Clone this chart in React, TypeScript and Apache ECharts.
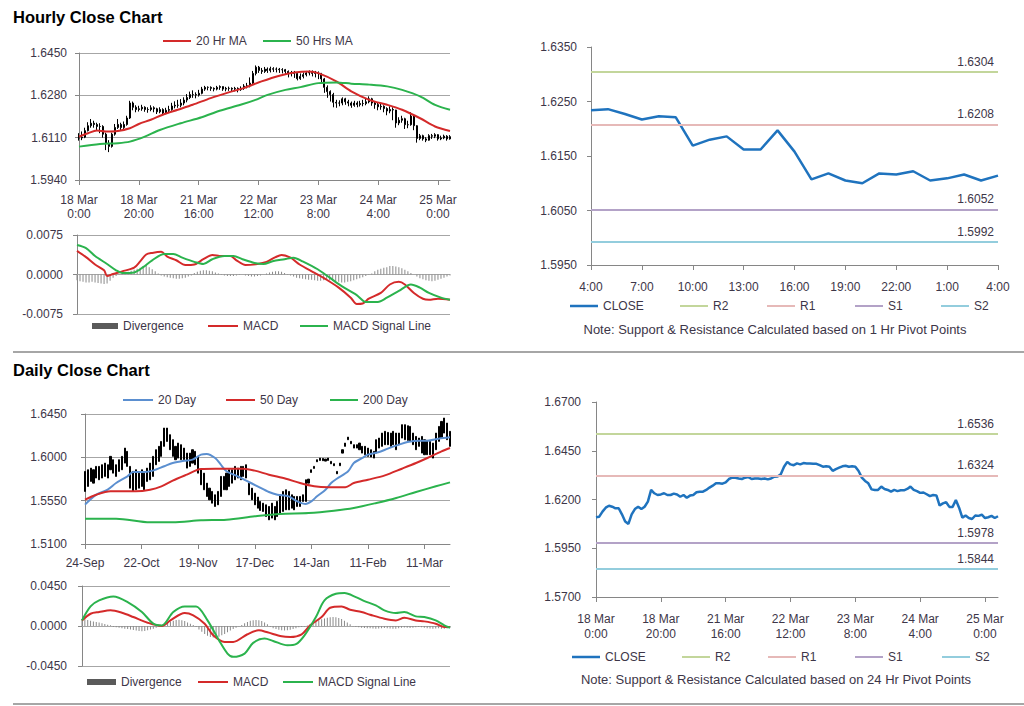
import React, { useEffect, useRef } from "react";
import * as echarts from "echarts";

const FONT = "'Liberation Sans', Arial, Helvetica, sans-serif";
const TEXT = "#3d3648";
const AXIS = "#868686";
const GRIDLINE = "#a6a6a6";
const RED = "#d42a2a";
const GREEN = "#2bb34d";
const BLUE = "#5b8fd0";
const CLOSE_BLUE = "#1f73be";
const DIV_GREY = "#8a8a8a";

// ---------------- Hourly data: 18 Mar 0:00 -> 25 Mar 4:00 (125 hours) ----------------
const hourlyClose = [
  1.6109, 1.6112, 1.6138, 1.6158, 1.6168, 1.6163, 1.6155, 1.6155, 1.6124, 1.6087,
  1.6075, 1.6124, 1.6151, 1.6163, 1.6151, 1.6163, 1.6189, 1.6249, 1.6232, 1.6223,
  1.6226, 1.6232, 1.6223, 1.6223, 1.623, 1.6226, 1.6214, 1.6223, 1.6209, 1.622,
  1.6223, 1.6237, 1.624, 1.624, 1.6249, 1.6261, 1.6271, 1.6283, 1.6283, 1.6281,
  1.6288, 1.6305, 1.6312, 1.6312, 1.6308, 1.6305, 1.6312, 1.6315, 1.6305, 1.6308,
  1.6308, 1.6305, 1.6308, 1.6303, 1.6308, 1.6317, 1.6318, 1.6329, 1.6368, 1.6393,
  1.638, 1.6376, 1.6385, 1.638, 1.6387, 1.6385, 1.6385, 1.6383, 1.6383, 1.6376,
  1.6368, 1.6371, 1.6368, 1.6347, 1.6356, 1.6363, 1.637, 1.6373, 1.6368, 1.6371,
  1.6368, 1.6346, 1.6312, 1.6295, 1.6283, 1.6252, 1.6249, 1.6249, 1.6266, 1.6254,
  1.6249, 1.624, 1.6249, 1.6243, 1.6247, 1.6247, 1.6254, 1.6266, 1.6249, 1.6243,
  1.6234, 1.6236, 1.6227, 1.6217, 1.6223, 1.6221, 1.6169, 1.618, 1.6186, 1.6162,
  1.6162, 1.6197, 1.6158, 1.6107, 1.6118, 1.6105, 1.61, 1.6118, 1.6116, 1.6122,
  1.6105, 1.6109, 1.6116, 1.6105, 1.6114,
];
const hourlyHigh = [
  1.6128, 1.6135, 1.615, 1.6172, 1.6185, 1.6178, 1.617, 1.6168, 1.616, 1.613,
  1.61, 1.613, 1.6165, 1.6185, 1.617, 1.6175, 1.6198, 1.6258, 1.6255, 1.624,
  1.6238, 1.6242, 1.6236, 1.6232, 1.624, 1.6236, 1.623, 1.6232, 1.6228, 1.623,
  1.6238, 1.625, 1.6256, 1.6262, 1.6265, 1.6272, 1.6285, 1.6295, 1.63, 1.6292,
  1.6302, 1.6314, 1.6318, 1.6316, 1.6316, 1.6312, 1.6318, 1.632, 1.6316, 1.6314,
  1.6315, 1.6312, 1.6314, 1.6312, 1.6316, 1.6325, 1.633, 1.6352, 1.6378, 1.64,
  1.6398, 1.639, 1.6394, 1.6392, 1.6395, 1.6393, 1.6392, 1.639, 1.6389, 1.6386,
  1.638, 1.6378, 1.6378, 1.637, 1.6368, 1.6372, 1.6378, 1.638, 1.638, 1.6378,
  1.6376, 1.637, 1.635, 1.632, 1.63, 1.629, 1.6262, 1.626, 1.6272, 1.627,
  1.6262, 1.6255, 1.6258, 1.6256, 1.6258, 1.6262, 1.6268, 1.6276, 1.627, 1.6256,
  1.625, 1.6248, 1.624, 1.6232, 1.6236, 1.6232, 1.6222, 1.6192, 1.6198, 1.619,
  1.6178, 1.6212, 1.6205, 1.616, 1.6125, 1.6122, 1.6112, 1.6124, 1.6125, 1.6128,
  1.6124, 1.6118, 1.6122, 1.612, 1.612,
];
const hourlyLow = [
  1.6098, 1.61, 1.6108, 1.6135, 1.615, 1.615, 1.614, 1.6128, 1.611, 1.606,
  1.6052, 1.607, 1.6118, 1.6145, 1.614, 1.6145, 1.6158, 1.6185, 1.622, 1.6212,
  1.6215, 1.6218, 1.6214, 1.621, 1.6216, 1.6212, 1.6205, 1.6208, 1.62, 1.6204,
  1.6212, 1.6218, 1.6228, 1.623, 1.6232, 1.624, 1.6252, 1.6265, 1.627, 1.6268,
  1.6275, 1.6284, 1.6298, 1.63, 1.6298, 1.6296, 1.63, 1.6302, 1.6298, 1.6296,
  1.6298, 1.6294, 1.6296, 1.6292, 1.6298, 1.6302, 1.6308, 1.6312, 1.6325, 1.636,
  1.637, 1.6366, 1.637, 1.637, 1.6372, 1.6374, 1.6372, 1.637, 1.6368, 1.6362,
  1.6352, 1.6356, 1.635, 1.634, 1.6342, 1.6348, 1.6356, 1.636, 1.6356, 1.6352,
  1.6345, 1.633, 1.629, 1.627, 1.6255, 1.6232, 1.623, 1.6236, 1.624, 1.6242,
  1.6236, 1.623, 1.6234, 1.6232, 1.6235, 1.6236, 1.624, 1.6248, 1.6238, 1.6226,
  1.622, 1.6222, 1.6212, 1.62, 1.6208, 1.618, 1.615, 1.616, 1.617, 1.6145,
  1.6148, 1.6158, 1.614, 1.609, 1.61, 1.6098, 1.6092, 1.6098, 1.6105, 1.6108,
  1.6098, 1.61, 1.6104, 1.6098, 1.6102,
];
const hourlyTickLabels = ["18 Mar\n0:00", "18 Mar\n20:00", "21 Mar\n16:00", "22 Mar\n12:00", "23 Mar\n8:00", "24 Mar\n4:00", "25 Mar\n0:00"];

// [hour index, value]
const ma20Hr = [
  [0, 1.6114], [3, 1.6128], [6, 1.6139], [9, 1.6135], [13, 1.6137], [17, 1.6148], [20, 1.6165],
  [24, 1.6182], [28, 1.6202], [33, 1.6222], [38, 1.6242], [44, 1.6269], [50, 1.6292], [55, 1.6309],
  [61, 1.6336], [67, 1.6359], [72, 1.6372], [77, 1.6376], [80, 1.6369], [86, 1.6336], [91, 1.6296],
  [97, 1.6262], [103, 1.6242], [108, 1.6222], [114, 1.6188], [119, 1.6155], [124, 1.6137],
];
const ma50Hr = [
  [0, 1.6074], [7, 1.6085], [13, 1.6088], [17, 1.6094], [22, 1.6114], [27, 1.6141], [34, 1.6168],
  [41, 1.6192], [47, 1.6218], [54, 1.6242], [59, 1.6262], [63, 1.6282], [69, 1.6302], [74, 1.6313],
  [80, 1.6329], [86, 1.6332], [91, 1.6327], [97, 1.6323], [103, 1.6316], [108, 1.6302], [114, 1.6276],
  [119, 1.6242], [124, 1.6222],
];
const hourlyMacd = [
  [0, 0.0045], [3, 0.0033], [6, 0.0019], [9, 0.0008], [10, -0.0003], [12, 0.0001], [15, 0.0006],
  [19, 0.0013], [21, 0.0025], [23, 0.0038], [25, 0.0041], [28, 0.0043], [30, 0.0034], [33, 0.0027],
  [36, 0.0018], [39, 0.0019], [42, 0.0029], [45, 0.0037], [48, 0.0035], [51, 0.0035], [53, 0.0027],
  [56, 0.0018], [60, 0.002], [63, 0.0024], [66, 0.0033], [68, 0.0037], [71, 0.0032], [74, 0.0019],
  [79, 0.0003], [83, -0.001], [87, -0.0025], [91, -0.0044], [93, -0.0056], [95, -0.0055], [97, -0.0046],
  [101, -0.0035], [104, -0.0019], [107, -0.0014], [109, -0.0019], [112, -0.0035], [115, -0.0046],
  [117, -0.0048], [120, -0.0046], [124, -0.0048],
];
const hourlySignal = [
  [0, 0.0056], [3, 0.005], [6, 0.0035], [10, 0.002], [13, 0.0008], [15, 0.0003], [19, 0.0004],
  [22, 0.0014], [25, 0.0027], [29, 0.0039], [32, 0.0039], [35, 0.0032], [39, 0.0024], [42, 0.002],
  [45, 0.0029], [49, 0.0035], [52, 0.0035], [55, 0.0029], [59, 0.0022], [62, 0.002], [65, 0.0025],
  [69, 0.0029], [72, 0.0032], [75, 0.0025], [80, 0.001], [84, -0.0006], [88, -0.0022], [93, -0.0039],
  [96, -0.0052], [100, -0.0052], [103, -0.0044], [107, -0.0031], [111, -0.0019], [114, -0.0025],
  [117, -0.0035], [121, -0.0044], [124, -0.0048],
];
const hourlyDivergence = [
  -0.0011, -0.0013, -0.0014, -0.0015, -0.0015, -0.0014, -0.0015, -0.0016, -0.0017, -0.0018, -0.0017, -0.0012,
  -0.0006, -0.0003, -0.0001,
  0.0002, 0.0003, 0.0005, 0.0007, 0.0009, 0.0011, 0.0013, 0.0016, 0.0018,
  0.0014, 0.001, 0.0006, 0.0002,
  -0.0002, -0.0004, -0.0005, -0.0006, -0.0007, -0.0008, -0.0008, -0.0007, -0.0006, -0.0004, -0.0002,
  0.0003, 0.0005, 0.0007, 0.0008, 0.0008, 0.0007, 0.0006, 0.0004, 0.0002,
  -0.0001, -0.0002, -0.0003, -0.0003, -0.0003, -0.0002, -0.0001, 0.0,
  -0.0002, -0.0003, -0.0004, -0.0004, -0.0003, -0.0002, 0.0,
  0.0002, 0.0004, 0.0005, 0.0006, 0.0006, 0.0005, 0.0003, 0.0001,
  -0.0002, -0.0004, -0.0006, -0.0007, -0.0008, -0.0009, -0.001, -0.001, -0.0011, -0.0012, -0.0012, -0.0011,
  -0.001, -0.0011, -0.0012, -0.0013, -0.0014, -0.0015, -0.0015, -0.0014, -0.0013, -0.0011, -0.0009,
  -0.0007, -0.0005, -0.0003, -0.0001, 0.0002,
  0.0006, 0.0009, 0.0011, 0.0013, 0.0014, 0.0016, 0.0016, 0.0015, 0.0014, 0.0012,
  0.0009, 0.0006, 0.0003, 0.0,
  -0.0004, -0.0007, -0.0009, -0.0011, -0.0012, -0.0013, -0.0012, -0.001, -0.0008, -0.0006,
  -0.0004, -0.0002,
];

// Last 24 hours (24 Mar 4:00 -> 25 Mar 4:00) are hourlyClose from index 100
const LAST24_START = 100;
const last24TickLabels = ["4:00", "7:00", "10:00", "13:00", "16:00", "19:00", "22:00", "1:00", "4:00"];

const pivotNames = ["R2", "R1", "S1", "S2"];
const pivotColors = ["#c3d69b", "#e6b9b8", "#b3a2c7", "#93cddd"];
const pivots1Hr = [1.6304, 1.6208, 1.6052, 1.5992];
const pivots24Hr = [1.6536, 1.6324, 1.5978, 1.5844];

// ---------------- Daily data: 24-Sep -> 24-Mar (130 trading days) ----------------
const dailyHigh = [
  1.5854, 1.5871, 1.5888, 1.5871, 1.5906, 1.5906, 1.5923, 1.594, 1.5923, 1.601,
  1.5975, 1.5923, 1.5975, 1.601, 1.6096, 1.6062, 1.5906, 1.5854, 1.5871, 1.5836,
  1.5871, 1.5836, 1.5888, 1.594, 1.601, 1.6079, 1.6114, 1.6165, 1.6304, 1.6304,
  1.6235, 1.6183, 1.6114, 1.6148, 1.6131, 1.6096, 1.6044, 1.6044, 1.6079, 1.6062,
  1.601, 1.5871, 1.5836, 1.5732, 1.568, 1.5646, 1.5611, 1.5646, 1.5802, 1.5802,
  1.5836, 1.5871, 1.5871, 1.5906, 1.5888, 1.5906, 1.5906, 1.5923, 1.5732, 1.568,
  1.5628, 1.5587, 1.5542, 1.5524, 1.5507, 1.549, 1.5524, 1.549, 1.5542, 1.5611,
  1.5646, 1.5663, 1.5646, 1.5611, 1.5594, 1.5594, 1.5594, 1.5611, 1.5767, 1.5774,
  1.5871, 1.5906, 1.5975, 1.5992, 1.5989, 1.5982, 1.5992, 1.5958, 1.5934, 1.5854,
  1.594, 1.6079, 1.6148, 1.621, 1.6166, 1.6131, 1.6131, 1.6148, 1.6114, 1.6114,
  1.6096, 1.6079, 1.6062, 1.6183, 1.62, 1.6252, 1.627, 1.6259, 1.6252, 1.627,
  1.6252, 1.6252, 1.6339, 1.6339, 1.6328, 1.6321, 1.6252, 1.6217, 1.62, 1.6217,
  1.6183, 1.6176, 1.6166, 1.6148, 1.6252, 1.6321, 1.6373, 1.6408, 1.6356, 1.627,
];
const dailyLow = [
  1.5646, 1.5698, 1.575, 1.5732, 1.5785, 1.5767, 1.5785, 1.5802, 1.5785, 1.5871,
  1.5836, 1.5802, 1.5854, 1.5871, 1.594, 1.5906, 1.568, 1.5646, 1.5663, 1.568,
  1.5698, 1.5663, 1.575, 1.5767, 1.5802, 1.5923, 1.5958, 1.601, 1.6114, 1.6165,
  1.6079, 1.601, 1.5975, 1.5992, 1.5975, 1.5975, 1.5888, 1.5906, 1.594, 1.5923,
  1.5836, 1.5715, 1.5663, 1.5594, 1.5559, 1.5524, 1.549, 1.5507, 1.5594, 1.5663,
  1.5663, 1.5698, 1.5732, 1.5767, 1.5785, 1.5767, 1.5802, 1.5785, 1.5611, 1.5559,
  1.5507, 1.5472, 1.5448, 1.5438, 1.5386, 1.5351, 1.5369, 1.5351, 1.5386, 1.5421,
  1.5438, 1.5455, 1.5455, 1.5472, 1.5455, 1.549, 1.549, 1.5542, 1.5542, 1.5732,
  1.5843, 1.5885, 1.5954, 1.5968, 1.5965, 1.5961, 1.5968, 1.5933, 1.5913, 1.5829,
  1.5913, 1.6044, 1.6114, 1.6183, 1.6141, 1.6096, 1.6096, 1.6079, 1.6044, 1.6027,
  1.601, 1.6003, 1.5992, 1.6044, 1.6096, 1.6114, 1.6131, 1.6131, 1.6114, 1.6131,
  1.6079, 1.6131, 1.62, 1.6183, 1.6176, 1.6166, 1.6131, 1.6079, 1.6114, 1.6044,
  1.6027, 1.6027, 1.6027, 1.5992, 1.6079, 1.6166, 1.62, 1.6252, 1.6183, 1.6114,
];
const dailyTickLabels = ["24-Sep", "22-Oct", "19-Nov", "17-Dec", "14-Jan", "11-Feb", "11-Mar"];

// [day index, value]
const ma20Day = [
  [0, 1.5509], [4, 1.5612], [8, 1.5664], [11, 1.5733], [15, 1.5803], [17, 1.5848], [21, 1.5848],
  [24, 1.5862], [28, 1.5907], [31, 1.5941], [35, 1.5965], [38, 1.5976], [41, 1.6028], [43, 1.6035],
  [46, 1.5993], [48, 1.5924], [50, 1.5855], [54, 1.5803], [57, 1.5758], [61, 1.5699], [65, 1.564],
  [68, 1.5612], [72, 1.5595], [75, 1.5543], [78, 1.5515], [80, 1.5543], [82, 1.5595], [85, 1.5664],
  [87, 1.5733], [89, 1.5778], [93, 1.5855], [95, 1.5941], [98, 1.5993], [100, 1.6028], [104, 1.6055],
  [107, 1.609], [111, 1.6132], [114, 1.6159], [118, 1.6173], [121, 1.6173], [125, 1.6194], [129, 1.6208],
];
const ma50Day = [
  [0, 1.556], [4, 1.5612], [9, 1.5647], [14, 1.5647], [18, 1.5647], [23, 1.5664], [27, 1.5699],
  [31, 1.5758], [36, 1.582], [41, 1.5879], [46, 1.5882], [50, 1.5882], [56, 1.5882], [60, 1.5862],
  [65, 1.582], [71, 1.5778], [76, 1.5733], [81, 1.5699], [86, 1.5689], [92, 1.5689], [95, 1.5733],
  [100, 1.5768], [106, 1.5813], [112, 1.5882], [117, 1.5941], [121, 1.5993], [126, 1.6062], [129, 1.6097],
];
const ma200Day = [
  [0, 1.5363], [11, 1.5363], [23, 1.5325], [31, 1.5325], [41, 1.5346], [50, 1.5353], [60, 1.5387],
  [69, 1.5412], [79, 1.5422], [88, 1.5446], [95, 1.5474], [103, 1.5526], [110, 1.5578], [117, 1.564],
  [124, 1.5699], [129, 1.574],
];
const dailyMacd = [
  [0, 0.0063], [3, 0.0138], [6, 0.0157], [10, 0.0176], [14, 0.0149], [18, 0.0101], [23, 0.0037],
  [28, 0.0], [31, 0.0063], [36, 0.0146], [39, 0.012], [43, 0.0026], [46, -0.0105], [50, -0.0179],
  [53, -0.0179], [58, -0.0093], [62, -0.0049], [65, -0.0071], [70, -0.0116], [73, -0.0123], [77, -0.0093],
  [80, 0.0007], [84, 0.0101], [87, 0.0205], [91, 0.022], [94, 0.0183], [98, 0.0157], [101, 0.0127],
  [106, 0.0082], [110, 0.0063], [113, 0.0093], [117, 0.0063], [120, 0.0052], [124, 0.0026],
  [127, -0.0011], [129, -0.0011],
];
const dailySignal = [
  [0, 0.0063], [3, 0.022], [6, 0.0288], [11, 0.0332], [16, 0.0269], [21, 0.0157], [25, 0.0026],
  [28, 0.0007], [32, 0.0157], [36, 0.022], [40, 0.022], [44, 0.0063], [48, -0.016], [51, -0.031],
  [53, -0.0347], [57, -0.031], [60, -0.019], [64, -0.0142], [67, -0.0168], [72, -0.0217], [75, -0.0205],
  [78, -0.0105], [82, 0.0101], [85, 0.0288], [89, 0.0362], [92, 0.037], [96, 0.0325], [99, 0.028],
  [103, 0.0232], [106, 0.0176], [110, 0.0146], [113, 0.0157], [117, 0.0108], [120, 0.0101],
  [124, 0.0063], [127, 0.0007], [129, -0.0019],
];
const dailyDivergence = [
  0.008, 0.0075, 0.0068, 0.006, 0.0052, 0.0045, 0.004,
  0.003, 0.0022, 0.0015, 0.0008,
  -0.001, -0.0015, -0.002, -0.0025, -0.003, -0.0035, -0.004, -0.0045, -0.005, -0.0055, -0.0058, -0.0055, -0.0048, -0.004,
  -0.003, -0.002, -0.001, 0.0,
  0.002, 0.0035, 0.005, 0.006, 0.0068, 0.007, 0.0065, 0.0055, 0.004,
  0.0025, 0.001, -0.001,
  -0.004, -0.0065, -0.009, -0.011, -0.0125, -0.013, -0.0128, -0.012, -0.0105, -0.009, -0.007, -0.005,
  -0.0035, -0.002, -0.0005, 0.001,
  0.003, 0.0045, 0.0058, 0.0065, 0.0068, 0.0065, 0.0055, 0.004, 0.002,
  -0.001, -0.0025, -0.0035, -0.0042, -0.0048, -0.005, -0.0048, -0.0042, -0.0035, -0.0025,
  -0.0015, -0.001, -0.0005, 0.0005,
  0.002, 0.0035, 0.005, 0.0065, 0.0075, 0.0085, 0.0092, 0.0098, 0.01, 0.0098, 0.009, 0.0078,
  0.006, 0.004, 0.002,
  -0.0005, -0.001, -0.0015, -0.002, -0.0022, -0.0025, -0.0025, -0.0028, -0.003, -0.0028, -0.0025, -0.0022,
  -0.0025, -0.0028, -0.003, -0.003, -0.0025, -0.002, -0.0018, -0.002, -0.0022, -0.002, -0.0015, -0.0012,
  -0.0015, -0.002, -0.0025, -0.0028, -0.003, -0.0028, -0.0025, -0.003, -0.0032, -0.0028, -0.002,
];

// axis baselines (each axis minimum; values are plotted relative to it)
const HOURLY_BASE = 1.594;
const LAST24_BASE = 1.595;
const DAILY_BASE = 1.51;
const HOURLY_LINE_BASE = 1.57;

const r6 = (v: number) => Math.round(v * 1e6) / 1e6;

function indexCats(n: number) {
  return Array.from({ length: n }, (_, i) => String(i));
}

const labelBase = { color: TEXT, fontSize: 12, fontFamily: FONT };

function xCat(gridIndex: number, n: number, extra: any = {}) {
  return {
    type: "category",
    gridIndex,
    data: indexCats(n),
    boundaryGap: false,
    axisLine: { show: true, lineStyle: { color: AXIS, width: 1 } },
    axisTick: { show: false },
    axisLabel: { show: false },
    splitLine: { show: false },
    ...extra,
  };
}

function yVal(gridIndex: number, min: number, max: number, interval: number, base: number, margin: number, split: boolean) {
  return {
    type: "value",
    gridIndex,
    min,
    max,
    interval,
    axisLine: { show: true, lineStyle: { color: AXIS, width: 1 } },
    axisTick: { show: true, length: 4, lineStyle: { color: AXIS } },
    axisLabel: { ...labelBase, margin, formatter: (v: number) => (v + base).toFixed(4) },
    splitLine: { show: split, lineStyle: { color: GRIDLINE, width: 1 } },
  };
}

function lineSeries(name: string, x: number, data: any[], color: string, width = 2, extra: any = {}) {
  return {
    name,
    type: "line",
    xAxisIndex: x,
    yAxisIndex: x,
    data,
    symbol: "none",
    showSymbol: false,
    silent: true,
    lineStyle: { color, width },
    itemStyle: { color, borderWidth: 0 },
    z: 3,
    ...extra,
  };
}

function pivotSeries(x: number, values: number[], base: number) {
  return pivotNames.map((name, k) => ({
    name,
    type: "line",
    xAxisIndex: x,
    yAxisIndex: x,
    data: [],
    symbol: "none",
    silent: true,
    lineStyle: { color: pivotColors[k], width: 2 },
    itemStyle: { color: pivotColors[k], borderWidth: 0 },
    markLine: {
      silent: true,
      precision: 6,
      symbol: ["none", "none"],
      lineStyle: { color: pivotColors[k], width: 2, type: "solid" },
      label: {
        show: true,
        position: "insideEndTop",
        formatter: values[k].toFixed(4),
        color: TEXT,
        fontSize: 12,
        fontFamily: FONT,
        distance: 4,
      },
      emphasis: { disabled: true },
      data: [{ yAxis: r6(values[k] - base) }],
    },
  }));
}

// legend box is as tall as its text (~14px), so its top sits 7px above the item centre
function legendItem(name: string, left: number, cy: number, iw = 28, ih = 2, extraItemStyle: any = null) {
  return {
    left,
    top: cy - 7,
    padding: 0,
    selectedMode: false,
    itemWidth: iw,
    itemHeight: ih,
    icon: "rect",
    itemStyle: { borderWidth: 0, ...(extraItemStyle || {}) },
    data: [name],
    textStyle: { ...labelBase },
  };
}

function buildOption() {
  const hourlyBars = hourlyClose.map((c, i) => {
    const o = i > 0 ? hourlyClose[i - 1] : c;
    return [r6(o - HOURLY_BASE), r6(c - HOURLY_BASE), r6(hourlyLow[i] - HOURLY_BASE), r6(hourlyHigh[i] - HOURLY_BASE)];
  });
  const dailyBars = dailyHigh.map((h, i) => {
    const l = dailyLow[i];
    return [r6(l - DAILY_BASE), r6(h - DAILY_BASE), r6(l - DAILY_BASE), r6(h - DAILY_BASE)];
  });
  const shiftPairs = (arr: number[][], base: number) => arr.map(([i, v]) => [i, r6(v - base)]);
  const last24 = hourlyClose.slice(LAST24_START);

  const candleStyle = { color: "#000", color0: "#000", borderColor: "#000", borderColor0: "#000", borderWidth: 1 };

  return {
    animation: false,
    backgroundColor: "#fff",
    textStyle: { fontFamily: FONT },
    grid: [
      { left: 79, top: 53, width: 371, height: 127 },
      { left: 77, top: 235, width: 373, height: 79 },
      { left: 591, top: 47, width: 407, height: 218 },
      { left: 85, top: 414, width: 365, height: 130 },
      { left: 82, top: 586, width: 368, height: 80 },
      { left: 596, top: 402, width: 402, height: 195 },
    ],
    xAxis: [
      xCat(0, hourlyClose.length, {
        axisTick: { show: true, interval: 19, length: 5, lineStyle: { color: AXIS } },
        axisLabel: {
          ...labelBase, interval: 19, margin: 13, lineHeight: 14,
          formatter: (_: string, i: number) => hourlyTickLabels[i / 20] ?? "",
        },
      }),
      xCat(1, hourlyClose.length, { axisLine: { show: true, onZero: true, lineStyle: { color: GRIDLINE, width: 1 } } }),
      xCat(2, last24.length, {
        axisTick: { show: true, interval: 2, length: 5, lineStyle: { color: AXIS } },
        axisLabel: {
          ...labelBase, interval: 2, margin: 15, lineHeight: 14,
          formatter: (_: string, i: number) => last24TickLabels[i / 3] ?? "",
        },
      }),
      xCat(3, dailyHigh.length, {
        axisTick: { show: true, interval: 19, length: 5, lineStyle: { color: AXIS } },
        axisLabel: {
          ...labelBase, interval: 19, margin: 12, lineHeight: 14,
          formatter: (_: string, i: number) => dailyTickLabels[i / 20] ?? "",
        },
      }),
      xCat(4, dailyHigh.length, { axisLine: { show: true, onZero: true, lineStyle: { color: GRIDLINE, width: 1 } } }),
      xCat(5, hourlyClose.length, {
        axisTick: { show: true, interval: 19, length: 5, lineStyle: { color: AXIS } },
        axisLabel: {
          ...labelBase, interval: 19, margin: 14, lineHeight: 15,
          formatter: (_: string, i: number) => hourlyTickLabels[i / 20] ?? "",
        },
      }),
    ],
    yAxis: [
      yVal(0, 0, 0.051, 0.017, HOURLY_BASE, 12, true),
      yVal(1, -0.0075, 0.0075, 0.0075, 0, 14, true),
      yVal(2, 0, 0.04, 0.01, LAST24_BASE, 14, false),
      yVal(3, 0, 0.135, 0.045, DAILY_BASE, 18, true),
      yVal(4, -0.045, 0.045, 0.045, 0, 15, true),
      yVal(5, 0, 0.1, 0.025, HOURLY_LINE_BASE, 15, false),
    ],
    legend: [
      legendItem("20 Hr MA", 163, 42),
      legendItem("50 Hrs MA", 263, 42),
      legendItem("Divergence", 92, 327, 26, 6, { color: "#5a5a5a" }),
      legendItem("MACD", 208, 327, 30),
      legendItem("MACD Signal Line", 300, 327, 28),
      legendItem("CLOSE", 570, 307, 28, 2.5),
      legendItem("R2", 680, 307, 28),
      legendItem("R1", 767, 307, 28),
      legendItem("S1", 855, 307, 28),
      legendItem("S2", 941, 307, 28),
      legendItem("20 Day", 123, 401, 30),
      legendItem("50 Day", 226, 401, 29),
      legendItem("200 Day", 330, 401, 28),
      legendItem("Divergence", 87, 683, 29, 6, { color: "#5a5a5a" }),
      legendItem("MACD", 198, 683, 30),
      legendItem("MACD Signal Line", 283, 683, 30),
      legendItem("CLOSE", 572, 658, 28, 2.5),
      legendItem("R2", 682, 658, 28),
      legendItem("R1", 768, 658, 28),
      legendItem("S1", 855, 658, 28),
      legendItem("S2", 942, 658, 28),
    ],
    series: [
      // Hourly OHLC bars + moving averages
      {
        name: "Hourly Bars",
        type: "candlestick",
        xAxisIndex: 0,
        yAxisIndex: 0,
        data: hourlyBars,
        barWidth: 1.5,
        silent: true,
        itemStyle: candleStyle,
        z: 2,
      },
      lineSeries("20 Hr MA", 0, shiftPairs(ma20Hr, HOURLY_BASE), RED, 2, { smooth: 0.3 }),
      lineSeries("50 Hrs MA", 0, shiftPairs(ma50Hr, HOURLY_BASE), GREEN, 2, { smooth: 0.3 }),
      // Hourly MACD
      {
        name: "Divergence",
        type: "bar",
        xAxisIndex: 1,
        yAxisIndex: 1,
        data: hourlyDivergence,
        barWidth: 1,
        silent: true,
        itemStyle: { color: DIV_GREY },
      },
      lineSeries("MACD", 1, hourlyMacd, RED, 2, { smooth: 0.3 }),
      lineSeries("MACD Signal Line", 1, hourlySignal, GREEN, 2, { smooth: 0.3 }),
      // Last 24 hours with 1 Hr pivots
      lineSeries("CLOSE", 2, last24.map((v) => r6(v - LAST24_BASE)), CLOSE_BLUE, 2.5),
      ...pivotSeries(2, pivots1Hr, LAST24_BASE),
      // Daily bars + moving averages
      {
        name: "Daily Bars",
        type: "candlestick",
        xAxisIndex: 3,
        yAxisIndex: 3,
        data: dailyBars,
        barWidth: 1.6,
        silent: true,
        itemStyle: candleStyle,
        z: 2,
      },
      lineSeries("20 Day", 3, shiftPairs(ma20Day, DAILY_BASE), BLUE, 2, { smooth: 0.3 }),
      lineSeries("50 Day", 3, shiftPairs(ma50Day, DAILY_BASE), RED, 2, { smooth: 0.3 }),
      lineSeries("200 Day", 3, shiftPairs(ma200Day, DAILY_BASE), GREEN, 2, { smooth: 0.3 }),
      // Daily MACD
      {
        name: "Divergence",
        type: "bar",
        xAxisIndex: 4,
        yAxisIndex: 4,
        data: dailyDivergence,
        barWidth: 1,
        silent: true,
        itemStyle: { color: DIV_GREY },
      },
      lineSeries("MACD", 4, dailyMacd, RED, 2, { smooth: 0.3 }),
      lineSeries("MACD Signal Line", 4, dailySignal, GREEN, 2, { smooth: 0.3 }),
      // Hourly close with 24 Hr pivots
      lineSeries("CLOSE", 5, hourlyClose.map((v) => r6(v - HOURLY_LINE_BASE)), CLOSE_BLUE, 2.5),
      ...pivotSeries(5, pivots24Hr, HOURLY_LINE_BASE),
    ],
    graphic: [
      {
        type: "text", x: 13, y: 17, silent: true,
        style: { text: "Hourly Close Chart", fill: "#000", fontSize: 16.5, fontWeight: "bold", fontFamily: FONT, verticalAlign: "middle" },
      },
      {
        type: "text", x: 13, y: 370, silent: true,
        style: { text: "Daily Close Chart", fill: "#000", fontSize: 16.5, fontWeight: "bold", fontFamily: FONT, verticalAlign: "middle" },
      },
      {
        type: "text", x: 775, y: 329, silent: true,
        style: { text: "Note: Support & Resistance Calculated based on 1 Hr Pivot Points", fill: TEXT, fontSize: 13, fontFamily: FONT, align: "center", verticalAlign: "middle" },
      },
      {
        type: "text", x: 776, y: 679, silent: true,
        style: { text: "Note: Support & Resistance Calculated based on 24 Hr Pivot Points", fill: TEXT, fontSize: 13, fontFamily: FONT, align: "center", verticalAlign: "middle" },
      },
      { type: "line", silent: true, shape: { x1: 13, y1: 352, x2: 1024, y2: 352 }, style: { stroke: "#a6a6a6", lineWidth: 2 } },
      { type: "line", silent: true, shape: { x1: 13, y1: 704, x2: 1024, y2: 704 }, style: { stroke: "#a6a6a6", lineWidth: 2 } },
    ],
  };
}

export default function App() {
  const ref = useRef<HTMLDivElement>(null);
  useEffect(() => {
    if (!ref.current) return;
    const chart = echarts.init(ref.current, null, { renderer: "svg", width: 1024, height: 706 });
    chart.setOption(buildOption() as any);
    return () => chart.dispose();
  }, []);
  return (
    <div
      ref={ref}
      style={{ position: "absolute", left: 0, top: 0, width: 1024, height: 706, background: "#fff" }}
    />
  );
}
